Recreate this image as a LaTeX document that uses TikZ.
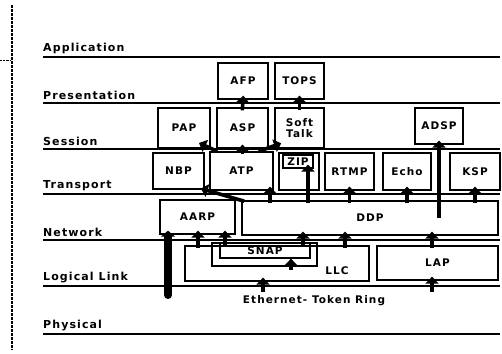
\documentclass[tikz,border=0pt]{standalone}
\usepackage{fontspec}
\setmainfont{DejaVu Sans}[LetterSpace=10]
\usetikzlibrary{arrows.meta}

\begin{document}
\begin{tikzpicture}[x=1pt, y=-1pt,
  box/.style={draw, line width=1.3pt, inner sep=0pt, align=center,
              font=\bfseries\fontsize{10.5}{10.5}\selectfont},
  frame/.style={draw, line width=1.3pt, inner sep=0pt},
  arrup/.style={draw, line width=3.6pt, -{Triangle[width=13pt,length=7pt]},
                shorten >=-4pt, shorten <=-3pt},
  layer/.style={font=\bfseries\fontsize{11}{12}\selectfont, anchor=south west, inner sep=1pt}
]
  \useasboundingbox (0,0) rectangle (502,353);

  % Scan edge on the left
  \draw[line width=1.3pt, dash pattern=on 3pt off 1pt] (12,5) -- (12,350);
  \draw[densely dotted] (0,60) -- (11,60);

  % Layer lines and names
  \foreach \y/\name in {57/Application, 103/Presentation, 149/Session,
                        194/Transport, 240/Network, 286/Logical Link, 334/Physical}{
    \draw[line width=1.2pt] (43,\y) -- (500,\y);
    \node[layer] at (42,\y-2) {\name};
  }

  % Presentation
  \node[box, minimum width=50pt, minimum height=36pt] (afp) at (243,81) {AFP};
  \node[box, minimum width=49pt, minimum height=36pt] (tops) at (299.5,81) {TOPS};

  % Session
  \node[box, minimum width=52pt, minimum height=40pt] (pap) at (184,128) {PAP};
  \node[box, minimum width=51pt, minimum height=40pt] (asp) at (242.5,128) {ASP};
  \node[box, minimum width=49pt, minimum height=40pt] (soft) at (299.5,128) {Soft\\Talk};
  \node[box, minimum width=48pt, minimum height=36pt] (adsp) at (439,126) {ADSP};

  % Transport
  \node[box, minimum width=51pt, minimum height=36pt] (nbp) at (178.5,171) {NBP};
  \node[box, minimum width=63pt, minimum height=38pt] (atp) at (241.5,171) {ATP};
  \node[frame, minimum width=40pt, minimum height=37pt] (zipf) at (299,171.5) {};
  \node[box, minimum width=30pt, minimum height=13pt] (zip) at (298,161.5) {ZIP};
  \node[box, minimum width=49pt, minimum height=37pt] (rtmp) at (349.5,171.5) {RTMP};
  \node[box, minimum width=48pt, minimum height=37pt] (echo) at (407,171.5) {Echo};
  \node[box, minimum width=50pt, minimum height=37pt] (ksp) at (475,171.5) {KSP};

  % Network
  \node[box, minimum width=75pt, minimum height=34pt] (aarp) at (197.5,217) {AARP};
  \node[box, minimum width=256pt, minimum height=34pt] (ddp) at (370,218) {DDP};

  % Logical link
  \node[frame, minimum width=184pt, minimum height=35pt] (llc) at (277,263.5) {};
  \node[font=\bfseries\fontsize{10.5}{10.5}\selectfont] (llct) at (337,271) {LLC};
  \node[frame, minimum width=105pt, minimum height=23pt] (snapf) at (264.5,254.5) {};
  \node[box, minimum width=90pt, minimum height=15pt] (snap) at (265,250.5) {SNAP};
  \node[box, minimum width=121pt, minimum height=34pt] (lap) at (437.5,263) {LAP};

  % Physical
  \node[font=\bfseries\fontsize{10.5}{11}\selectfont] (eth) at (314,301) {Ethernet- Token Ring};
  \coordinate (ethl) at (168,295);

  % Arrows up from the physical layer
  \draw[line width=8pt, line cap=round, -{Triangle[width=14pt,length=6pt]},
        shorten >=-4pt] (ethl) -- (aarp.south -| ethl);
  \draw[arrup, shorten <=0pt] (eth.north -| 263,0) -- (llc.south -| 263,0);
  \draw[arrup, shorten <=0pt] (eth.north -| 432,0) -- (lap.south -| 432,0);

  % Arrows up from the link layer
  \draw[arrup] (llc.north -| 198,0) -- (aarp.south -| 198,0);
  \draw[arrup] (snapf.north -| 225,0) -- (aarp.south -| 225,0);
  \draw[arrup] (snapf.north -| 303,0) -- (ddp.south -| 303,0);
  \draw[arrup] (llc.north -| 345,0) -- (ddp.south -| 345,0);
  \draw[arrup] (lap.north -| 432,0) -- (ddp.south -| 432,0);
  \draw[arrup, shorten >=0pt] (snapf.south -| 291,0) -- (snap.south -| 291,0);

  % Arrows up from DDP
  \draw[arrup] (ddp.north west) -- (nbp.south east);
  \draw[arrup] (ddp.north -| 270,0) -- (atp.south -| 270,0);
  \draw[arrup] (ddp.north -| 308,0) -- (zip.south -| 308,0);
  \draw[arrup] (ddp.north -| rtmp.south) -- (rtmp.south);
  \draw[arrup] (ddp.north -| echo.south) -- (echo.south);
  \draw[arrup] (ddp.north -| ksp.south) -- (ksp.south);
  \draw[arrup, shorten <=0pt] (ddp.center -| adsp.south) -- (adsp.south);

  % Arrows up from ATP
  \draw[arrup, shorten <=0pt] ([xshift=8pt]atp.north west) -- ([xshift=-8pt,yshift=4pt]pap.south east);
  \draw[arrup] (atp.north -| asp.south) -- (asp.south);
  \draw[arrup, shorten <=0pt] ([xshift=-15pt]atp.north east) -- ([xshift=3pt,yshift=4pt]soft.south west);

  % Arrows up to the presentation layer
  \draw[arrup] (asp.north) -- (afp.south);
  \draw[arrup] (soft.north) -- (tops.south);
\end{tikzpicture}
\end{document}
